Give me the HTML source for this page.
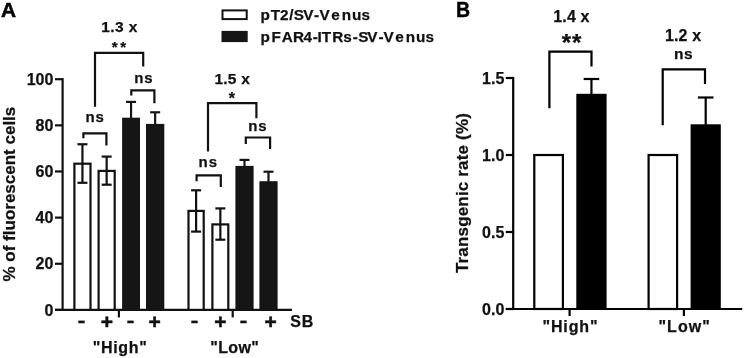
<!DOCTYPE html>
<html><head><meta charset="utf-8"><title>Figure</title>
<style>
html,body{margin:0;padding:0;background:#fff;}
body{width:744px;height:358px;overflow:hidden;}
svg{display:block;}
svg text{font-family:"Liberation Sans",Arial,Helvetica,sans-serif;font-weight:bold;fill:#111;stroke:#111;stroke-width:0.25;}
</style></head><body>
<svg width="744" height="358" viewBox="0 0 744 358">
<rect width="744" height="358" fill="#fff"/>
<text x="1.1" y="16.5" font-size="20.8" text-anchor="start" style="stroke-width:0.5;fill:#000;stroke:#000">A</text>
<line x1="62.6" y1="78.1" x2="62.6" y2="311.0" stroke="#111" stroke-width="2.2"/>
<line x1="55" y1="309.9" x2="292" y2="309.9" stroke="#111" stroke-width="2.2"/>
<line x1="55" y1="309.9" x2="62.6" y2="309.9" stroke="#111" stroke-width="2.2"/>
<text x="53.4" y="316" font-size="16" text-anchor="end">0</text>
<line x1="55" y1="263.76" x2="62.6" y2="263.76" stroke="#111" stroke-width="2.2"/>
<text x="53.4" y="269.3" font-size="16" text-anchor="end">20</text>
<line x1="55" y1="217.62" x2="62.6" y2="217.62" stroke="#111" stroke-width="2.2"/>
<text x="53.4" y="223.2" font-size="16" text-anchor="end">40</text>
<line x1="55" y1="171.48" x2="62.6" y2="171.48" stroke="#111" stroke-width="2.2"/>
<text x="53.4" y="177.0" font-size="16" text-anchor="end">60</text>
<line x1="55" y1="125.34" x2="62.6" y2="125.34" stroke="#111" stroke-width="2.2"/>
<text x="53.4" y="130.9" font-size="16" text-anchor="end">80</text>
<line x1="55" y1="79.2" x2="62.6" y2="79.2" stroke="#111" stroke-width="2.2"/>
<text x="53.4" y="84.8" font-size="16" text-anchor="end">100</text>
<text transform="translate(15.2,194.1) rotate(-90)" font-size="17" text-anchor="middle">% of fluorescent cells</text>
<rect x="74.4" y="163.7" width="16.1" height="146.2" fill="#fff" stroke="#111" stroke-width="2.2"/>
<line x1="82.45" y1="144.25" x2="82.45" y2="182.8" stroke="#111" stroke-width="2.2"/>
<line x1="77.45" y1="144.25" x2="87.45" y2="144.25" stroke="#111" stroke-width="2.2"/>
<line x1="77.45" y1="182.8" x2="87.45" y2="182.8" stroke="#111" stroke-width="2.2"/>
<rect x="98.6" y="170.9" width="16.1" height="139.0" fill="#fff" stroke="#111" stroke-width="2.2"/>
<line x1="106.65" y1="156.6" x2="106.65" y2="184.7" stroke="#111" stroke-width="2.2"/>
<line x1="101.65" y1="156.6" x2="111.65" y2="156.6" stroke="#111" stroke-width="2.2"/>
<line x1="101.65" y1="184.7" x2="111.65" y2="184.7" stroke="#111" stroke-width="2.2"/>
<rect x="122.1" y="117.7" width="17.9" height="192.2" fill="#151515"/>
<line x1="131.05" y1="101.9" x2="131.05" y2="118.7" stroke="#151515" stroke-width="2.2"/>
<line x1="126.05" y1="101.9" x2="136.05" y2="101.9" stroke="#151515" stroke-width="2.2"/>
<rect x="146.0" y="123.9" width="18.3" height="186.0" fill="#151515"/>
<line x1="155.15" y1="112.3" x2="155.15" y2="124.9" stroke="#151515" stroke-width="2.2"/>
<line x1="150.15" y1="112.3" x2="160.15" y2="112.3" stroke="#151515" stroke-width="2.2"/>
<rect x="188.5" y="210.9" width="15.2" height="99.0" fill="#fff" stroke="#111" stroke-width="2.2"/>
<line x1="196.1" y1="190.3" x2="196.1" y2="231.6" stroke="#111" stroke-width="2.2"/>
<line x1="191.1" y1="190.3" x2="201.1" y2="190.3" stroke="#111" stroke-width="2.2"/>
<line x1="191.1" y1="231.6" x2="201.1" y2="231.6" stroke="#111" stroke-width="2.2"/>
<rect x="212.4" y="224.4" width="15.9" height="85.5" fill="#fff" stroke="#111" stroke-width="2.2"/>
<line x1="220.35" y1="208.4" x2="220.35" y2="239.7" stroke="#111" stroke-width="2.2"/>
<line x1="215.35" y1="208.4" x2="225.35" y2="208.4" stroke="#111" stroke-width="2.2"/>
<line x1="215.35" y1="239.7" x2="225.35" y2="239.7" stroke="#111" stroke-width="2.2"/>
<rect x="235.4" y="165.9" width="18.2" height="144.0" fill="#151515"/>
<line x1="244.5" y1="159.9" x2="244.5" y2="166.9" stroke="#151515" stroke-width="2.2"/>
<line x1="239.5" y1="159.9" x2="249.5" y2="159.9" stroke="#151515" stroke-width="2.2"/>
<rect x="259.4" y="181.2" width="18.2" height="128.7" fill="#151515"/>
<line x1="268.5" y1="171.7" x2="268.5" y2="182.2" stroke="#151515" stroke-width="2.2"/>
<line x1="263.5" y1="171.7" x2="273.5" y2="171.7" stroke="#151515" stroke-width="2.2"/>
<line x1="118.9" y1="309.9" x2="118.9" y2="317.4" stroke="#111" stroke-width="2.2"/>
<line x1="232.7" y1="309.9" x2="232.7" y2="317.4" stroke="#111" stroke-width="2.2"/>
<text x="81.4" y="326.8" font-size="17.5" text-anchor="middle" textLength="8.0" lengthAdjust="spacingAndGlyphs">-</text>
<text x="130.5" y="326.8" font-size="17.5" text-anchor="middle" textLength="8.0" lengthAdjust="spacingAndGlyphs">-</text>
<text x="194.5" y="326.8" font-size="17.5" text-anchor="middle" textLength="8.0" lengthAdjust="spacingAndGlyphs">-</text>
<text x="243.5" y="326.8" font-size="17.5" text-anchor="middle" textLength="8.0" lengthAdjust="spacingAndGlyphs">-</text>
<text x="106.9" y="328.6" font-size="21" text-anchor="middle" style="stroke-width:0.5">+</text>
<text x="154.6" y="328.6" font-size="21" text-anchor="middle" style="stroke-width:0.5">+</text>
<text x="220.3" y="328.6" font-size="21" text-anchor="middle" style="stroke-width:0.5">+</text>
<text x="270.7" y="328.6" font-size="21" text-anchor="middle" style="stroke-width:0.5">+</text>
<text x="290.2" y="327.3" font-size="16" text-anchor="start" textLength="23" lengthAdjust="spacing">SB</text>
<text x="119.8" y="352.8" font-size="16" text-anchor="middle" textLength="54" lengthAdjust="spacing">"High"</text>
<text x="234.5" y="352.8" font-size="16" text-anchor="middle" textLength="48.5" lengthAdjust="spacing">"Low"</text>
<polyline points="95.0,106.7 95.0,52.8 143.2,52.8 143.2,66.6" fill="none" stroke="#111" stroke-width="2.2" stroke-linejoin="miter"/>
<text x="119.3" y="31.7" font-size="15.5" text-anchor="middle" textLength="36.1" lengthAdjust="spacing">1.3 x</text>
<text x="118.9" y="52.0" font-size="15" text-anchor="middle" textLength="14.4" lengthAdjust="spacing">**</text>
<polyline points="131.3,95.6 131.3,90.4 154.4,90.4 154.4,103.2" fill="none" stroke="#111" stroke-width="2.2" stroke-linejoin="miter"/>
<text x="143.4" y="83.0" font-size="15" text-anchor="middle" textLength="18.4" lengthAdjust="spacing">ns</text>
<polyline points="83.4,138.2 83.4,133.3 106.4,133.3 106.4,145.6" fill="none" stroke="#111" stroke-width="2.2" stroke-linejoin="miter"/>
<text x="94.6" y="121.9" font-size="15" text-anchor="middle" textLength="18.4" lengthAdjust="spacing">ns</text>
<polyline points="208,151.6 208,103.2 256.4,103.2 256.4,118.2" fill="none" stroke="#111" stroke-width="2.2" stroke-linejoin="miter"/>
<text x="232.1" y="83.6" font-size="15.5" text-anchor="middle" textLength="35.3" lengthAdjust="spacing">1.5 x</text>
<text x="231.8" y="104.0" font-size="16" text-anchor="middle">*</text>
<polyline points="245.8,143.9 245.8,137.5 270.1,137.5 270.1,148.9" fill="none" stroke="#111" stroke-width="2.2" stroke-linejoin="miter"/>
<text x="257.5" y="131.4" font-size="15" text-anchor="middle" textLength="18.4" lengthAdjust="spacing">ns</text>
<polyline points="196.6,181.2 196.6,175.3 220.8,175.3 220.8,186.9" fill="none" stroke="#111" stroke-width="2.2" stroke-linejoin="miter"/>
<text x="207.8" y="167.3" font-size="15" text-anchor="middle" textLength="18.4" lengthAdjust="spacing">ns</text>
<rect x="222.5" y="10.4" width="24.2" height="8.7" fill="#fff" stroke="#111" stroke-width="2"/>
<rect x="221.5" y="30.9" width="26.2" height="11.2" fill="#151515"/>
<text x="260.55 270.75 280.05 289.25 293.7 303.35 314.1 319.45 331.35 341.65 351.95 361.55" y="20.2" font-size="15.3">pT2/SV-Venus</text>
<text x="260.55 271.55 281.7 293.05 303.45 312.85 317.6 321.75 332.25 343.35 352.65 358.15 367.3 378.45 383.45 395.35 405.65 415.95 425.55" y="42.0" font-size="15.3">pFAR4-ITRs-SV-Venus</text>
<text x="456.1" y="16.7" font-size="21.3" text-anchor="start" textLength="14.1" lengthAdjust="spacingAndGlyphs" style="stroke-width:0.4;fill:#000;stroke:#000">B</text>
<line x1="513.2" y1="76.9" x2="513.2" y2="310.1" stroke="#000" stroke-width="2.2"/>
<line x1="505.8" y1="309.0" x2="742.2" y2="309.0" stroke="#000" stroke-width="2.2"/>
<line x1="505.8" y1="309.0" x2="513.2" y2="309.0" stroke="#000" stroke-width="2.2"/>
<text x="504.3" y="314.8" font-size="16" text-anchor="end">0.0</text>
<line x1="505.8" y1="232.0" x2="513.2" y2="232.0" stroke="#000" stroke-width="2.2"/>
<text x="504.3" y="237.8" font-size="16" text-anchor="end">0.5</text>
<line x1="505.8" y1="155.0" x2="513.2" y2="155.0" stroke="#000" stroke-width="2.2"/>
<text x="504.3" y="160.8" font-size="16" text-anchor="end">1.0</text>
<line x1="505.8" y1="78.0" x2="513.2" y2="78.0" stroke="#000" stroke-width="2.2"/>
<text x="504.3" y="83.8" font-size="16" text-anchor="end">1.5</text>
<text transform="translate(467.8,193.1) rotate(-90)" font-size="17" text-anchor="middle" textLength="160" lengthAdjust="spacing">Transgenic rate (%)</text>
<rect x="534.3" y="155.0" width="28.6" height="154.0" fill="#fff" stroke="#000" stroke-width="2.2"/>
<rect x="648.6" y="155.0" width="28.5" height="154.0" fill="#fff" stroke="#000" stroke-width="2.2"/>
<rect x="576.3" y="93.8" width="30.3" height="215.2" fill="#000"/>
<line x1="591.45" y1="79" x2="591.45" y2="94.8" stroke="#000" stroke-width="2.2"/>
<line x1="583.65" y1="79" x2="599.25" y2="79" stroke="#000" stroke-width="2.2"/>
<rect x="690.6" y="124.3" width="30.2" height="184.7" fill="#000"/>
<line x1="705.7" y1="97.5" x2="705.7" y2="125.3" stroke="#000" stroke-width="2.2"/>
<line x1="697.9" y1="97.5" x2="713.5" y2="97.5" stroke="#000" stroke-width="2.2"/>
<line x1="569.6" y1="309.0" x2="569.6" y2="316" stroke="#000" stroke-width="2.2"/>
<line x1="683.9" y1="309.0" x2="683.9" y2="316" stroke="#000" stroke-width="2.2"/>
<text x="570.0" y="331.6" font-size="16" text-anchor="middle" textLength="55.2" lengthAdjust="spacing">"High"</text>
<text x="684.2" y="331.6" font-size="16" text-anchor="middle" textLength="51.5" lengthAdjust="spacing">"Low"</text>
<polyline points="549.4,108.2 549.4,51.6 591.5,51.6 591.5,66.4" fill="none" stroke="#000" stroke-width="2.2" stroke-linejoin="miter"/>
<text x="571.4" y="21.6" font-size="16" text-anchor="middle" textLength="36.2" lengthAdjust="spacing">1.4 x</text>
<text x="571.5" y="50.8" font-size="24" text-anchor="middle" textLength="19.5" lengthAdjust="spacing">**</text>
<polyline points="662.7,125.3 662.7,69.3 705,69.3 705,83.9" fill="none" stroke="#000" stroke-width="2.2" stroke-linejoin="miter"/>
<text x="683.0" y="40.8" font-size="16" text-anchor="middle" textLength="36.2" lengthAdjust="spacing">1.2 x</text>
<text x="683.2" y="59.3" font-size="15.5" text-anchor="middle" textLength="18.6" lengthAdjust="spacing">ns</text>
</svg>
</body></html>
